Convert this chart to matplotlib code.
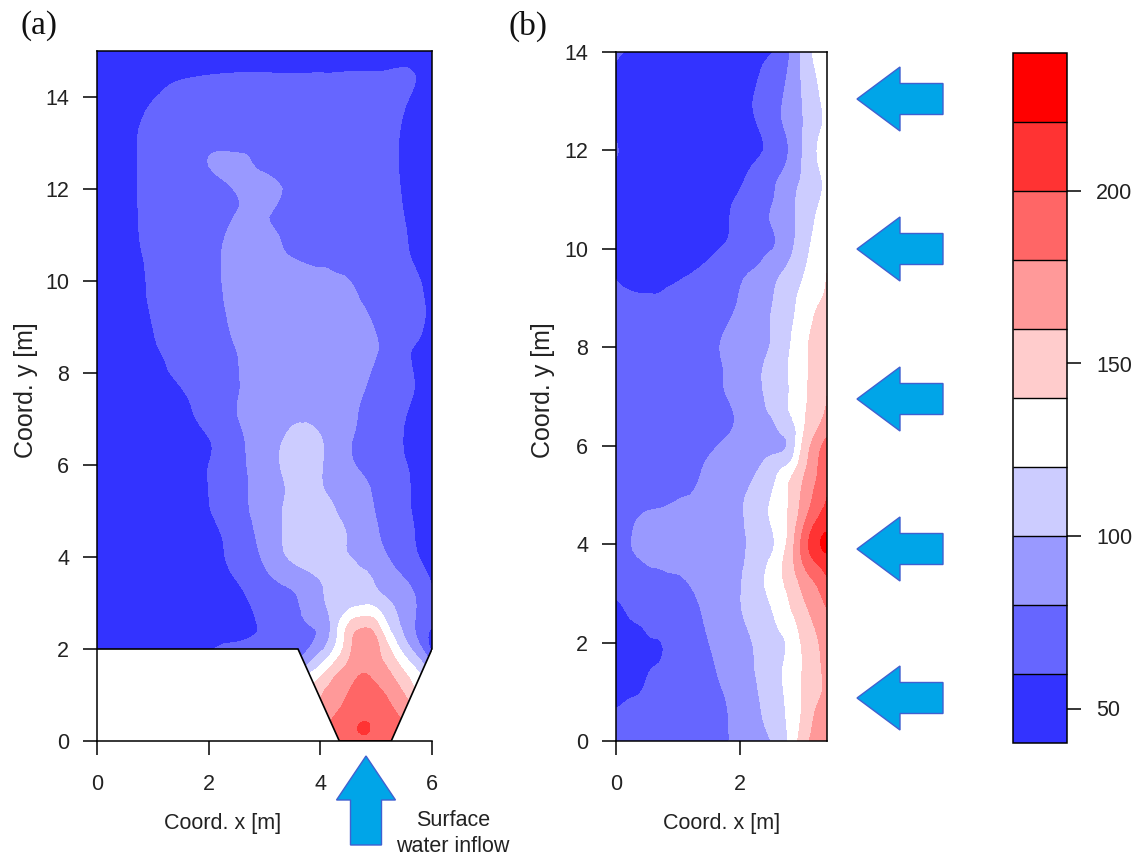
import numpy as np
import matplotlib
matplotlib.use("Agg")
import matplotlib.pyplot as plt
import matplotlib.tri as mtri
from matplotlib.patches import FancyArrow, Polygon

plt.rcParams["font.family"] = ["Liberation Sans", "DejaVu Sans"]
plt.rcParams["font.size"] = 15.5

levels = [40, 60, 80, 100, 120, 140, 160, 180, 200, 220, 240]
band_colors = ["#3333FF", "#6666FF", "#9999FF", "#CCCCFF", "#FFFFFF",
               "#FFCCCC", "#FF9999", "#FF6666", "#FF3333", "#FF0000"]
bar_ticks = [50, 100, 150, 200]

# panel (a), surface water inflow from below
xa = [0, .5, 1, 1.5, 2, 2.5, 3, 3.5, 4, 4.25, 4.5, 4.75, 5, 5.25, 5.5, 5.75, 6]
ya = [0, .25, .5, 1, 1.5, 2, 2.5, 3, 3.5, 4, 4.5, 5, 5.5, 6, 6.5, 7, 7.5, 8, 8.5,
      9, 9.5, 10, 10.5, 11, 11.5, 12, 12.5, 13, 13.5, 14, 14.5, 15]
za = [
    [100, 100, 110, 120, 130, 140, 145, 150, 170, 180, 188, 190, 189, 185, 178, 165, 150],
    [100, 100, 110, 120, 130, 140, 148, 155, 175, 184, 192, 203, 195, 188, 181, 170, 155],
    [100, 100, 110, 120, 130, 140, 146, 150, 170, 181, 190, 197, 193, 186, 178, 165, 150],
    [90, 90, 95, 100, 105, 110, 120, 130, 158, 170, 181, 190, 186, 176, 161, 140, 120],
    [60, 60, 62, 65, 70, 78, 88, 100, 132, 154, 168, 179, 172, 160, 141, 121, 100],
    [48, 50, 52, 54, 58, 63, 68, 64, 95, 121, 153, 170, 165, 140, 112, 88, 55],
    [48, 50, 51, 52, 54, 56, 63, 72, 84, 110, 143, 157, 148, 116, 95, 75, 60.5],
    [48, 50, 51, 52, 54, 57, 66, 76, 95, 107, 112, 116, 113, 101, 90, 78, 63],
    [48, 50, 51, 52, 53, 60, 74, 87, 100, 108, 110, 105, 97, 88, 81, 71, 58],
    [48, 50, 51, 52, 54, 65, 83, 103, 110, 107, 101, 94, 87, 79, 70, 60.5, 55],
    [48, 50, 51, 53, 55, 68, 87, 106, 110, 106, 99, 91, 82, 75, 67, 58, 55],
    [48, 50, 52, 54, 59, 73, 89, 105, 106, 101, 94, 87, 79, 72, 64, 57, 55],
    [48, 50, 52, 55, 60, 74, 88, 103, 101, 96, 91, 84, 77, 71, 63, 57, 55],
    [48, 50, 52, 55, 60, 74, 90, 106, 101, 93, 84, 77, 73, 67, 61, 57, 55],
    [48, 50, 52, 55, 59, 75, 90, 104, 101, 93, 82, 76, 71, 66, 59.5, 56, 54],
    [48, 50, 52, 55, 65, 79, 92, 99, 97, 90, 84, 78, 74, 68, 60.5, 56, 54],
    [49, 52, 55, 58, 69, 79, 92, 97, 95, 90, 85, 80, 76, 71, 64, 58, 54],
    [49, 53, 56, 63, 72, 79, 90, 94, 94, 92, 88, 83, 78, 73, 65, 58, 54],
    [49, 54, 58.5, 66, 74, 80, 90, 94, 94, 93, 90, 85, 80.5, 75, 64, 58, 54],
    [50, 55, 60, 67, 75, 82, 90, 93, 93, 91, 88, 84, 79, 74, 70, 63, 56],
    [50, 55, 61, 68, 76, 83, 88, 90, 89, 87, 84, 80, 76, 72, 68, 63, 57],
    [50, 55, 61.5, 68, 76, 84, 87, 88, 86, 83, 80.5, 77, 74, 70, 65, 60.8, 56],
    [50, 56, 62, 69, 76, 84, 85, 80, 76, 75, 74, 73, 71, 67, 62, 58, 55],
    [50, 56.5, 63, 69, 75, 83, 83, 76, 74, 73, 72, 71, 69, 66, 61, 57, 55],
    [50, 57, 63, 69, 74, 80, 81, 75, 73, 72, 71, 70, 68, 65, 59.7, 57, 55],
    [50, 57, 63, 69, 75, 81, 85, 76, 73, 72, 71, 69, 67, 63, 59, 56, 54],
    [50, 57, 63, 69, 80, 84, 77, 74, 72, 71, 70, 68, 66, 62.5, 58.5, 55, 53],
    [50, 57, 63, 68, 76, 76, 75, 74, 72, 71, 70, 68, 66, 62.5, 58.5, 55, 53],
    [50, 56, 62, 66, 70, 71, 71, 71, 71, 70, 70, 69, 67, 63, 59.5, 56, 54],
    [48, 54, 59.5, 64, 67, 68, 68, 68, 68, 68, 68, 67, 66, 64, 61.5, 57, 54],
    [50, 53, 56, 58, 59.5, 60.5, 60.5, 60, 60.5, 60.5, 61, 61, 61, 61.5, 62, 59, 55],
    [50, 50, 50, 50, 50, 50, 50, 50, 50, 50, 50, 50, 50, 50, 50, 50, 50],
]
domain_x = [0, 3.6, 4.34, 5.27, 6, 6, 0]
domain_y = [2, 2, 0, 0, 2, 15, 15]

# panel (b), inflow from the right side
xb = [0, .25, .5, .75, 1, 1.25, 1.5, 1.75, 2, 2.25, 2.5, 2.75, 3, 3.25, 3.4]
yb = [0, .5, 1, 1.5, 2, 2.5, 3, 3.5, 4, 4.5, 5, 5.5, 6, 6.5, 7, 7.5, 8, 8.5, 9,
      9.5, 10, 10.5, 11, 11.5, 12, 12.5, 13, 13.5, 14]
zb = [
    [64, 65, 66, 67, 69, 72, 75, 78.5, 85, 92, 100, 118, 149, 170, 177],
    [63, 64, 65, 66, 68, 71, 75, 78.5, 86.5, 95.5, 107, 121, 142, 165, 172],
    [54, 58.5, 61.5, 65, 69, 72.5, 76, 80.5, 89.5, 98, 111, 123, 141, 156, 166],
    [50, 53, 58, 62.5, 67.5, 72.5, 77.5, 84, 93, 100.5, 111, 123.5, 140, 156.5, 166],
    [50, 52, 56.5, 60.5, 67, 73.5, 80, 87, 94, 101.5, 110.5, 121, 142, 159, 168],
    [56, 60.5, 65, 69, 73, 77, 83, 90, 98, 107, 117, 132, 149, 166, 175],
    [61, 63, 66, 70, 73, 79.5, 86, 93, 99.5, 111, 124, 139.5, 160, 177, 190],
    [70, 74, 78, 80.5, 83, 87, 91, 95, 98.5, 109, 126.5, 146.5, 174.5, 195, 206],
    [76, 80, 85, 88, 90, 92, 93, 95, 98, 104.5, 116, 141, 185, 216, 224],
    [72, 77, 84, 86, 88, 89, 92, 95, 98.5, 107.5, 121.5, 138.5, 171.5, 201, 210],
    [67, 69, 71, 74, 78, 81, 87, 92.5, 97.5, 106, 119.5, 138, 163, 187, 199],
    [66, 67, 68, 70, 73, 77, 82, 87, 92.5, 98.5, 110, 127, 154, 180, 190],
    [66, 66, 66, 67, 69, 73, 78, 82, 87, 91, 95, 99.5, 141.5, 173, 186],
    [66, 66, 66, 66, 67, 70, 73, 76, 83, 91, 98.5, 113, 135, 155, 166],
    [66, 66, 66, 66, 67, 70, 74, 79, 87, 94.5, 104, 118, 134.5, 151, 160],
    [67, 67, 67, 67, 68, 71, 75, 80.5, 88, 96, 105.5, 118.5, 134.5, 147, 155],
    [67, 67, 67, 67, 69, 72, 76, 82, 88, 94, 101, 116, 134, 147, 152],
    [66, 66, 66, 66, 67, 70, 73, 78, 85.5, 93, 100.5, 113, 128.5, 146, 152],
    [63, 62.5, 62, 62.5, 65, 67, 70, 75, 81, 90, 98.5, 111, 124, 136.5, 144],
    [59, 54, 53, 54, 57, 60.5, 65, 71, 76.5, 82.5, 93, 104.5, 118, 131, 140],
    [53, 53, 53, 53, 53, 54, 57, 61.5, 67.5, 73, 79, 92, 111, 128, 135],
    [52, 52, 52, 52, 52, 53, 55, 58, 65.5, 72.5, 80, 92, 106, 124, 132],
    [52, 52, 52, 52, 52, 53, 54, 57, 62.5, 70.5, 78.5, 91, 105, 118, 126],
    [52, 52, 52, 52, 52, 52, 53, 54, 57, 64.5, 74, 86, 101, 117, 125],
    [62, 55, 52, 52, 52, 52, 53, 54, 55, 57.5, 65, 77.5, 100, 121, 130],
    [52, 51, 51, 51, 51, 51, 52, 53, 55, 59, 70, 83, 99, 116, 125],
    [51, 51, 51, 51, 51, 51, 52, 53, 56, 61, 72, 84, 100, 117, 126],
    [57, 54, 52, 52, 52, 52, 52, 53, 55, 58.5, 69, 80, 102, 121, 128],
    [62, 58, 53, 52, 52, 52, 52, 52, 53, 55, 58.5, 74, 103, 127, 132],
]

# arrows are given in image pixels: y of the left arrows, then the one from below
left_arrow_y = [99, 249, 399, 549, 698]
W, H = 1135, 856


def px_axes(fig, left, top, right, bottom):
    return fig.add_axes([left / W, 1 - bottom / H, (right - left) / W, (bottom - top) / H])


def smooth_contourf(ax, x, y, z):
    """Filled contours on the read grid, with the library's cubic tri refiner for round edges."""
    gx, gy = np.meshgrid(x, y)
    tri = mtri.Triangulation(gx.ravel(), gy.ravel())
    tri_fine, z_fine = mtri.UniformTriRefiner(tri).refine_field(np.array(z).ravel(), subdiv=2)
    return ax.tricontourf(tri_fine, z_fine, levels=levels, colors=band_colors)


def style_axes(ax, xticks, yticks, xlabel_x, ylabel_x):
    ax.set_xticks(xticks)
    ax.set_yticks(yticks)
    ax.tick_params(length=10, width=1.1, labelcolor="#222222")
    ax.tick_params(axis="x", pad=14)
    ax.tick_params(axis="y", pad=10)
    ax.set_xlabel("Coord. x [m]", color="#222222")
    ax.xaxis.set_label_coords(xlabel_x, -0.104)
    ax.set_ylabel("Coord. y [m]", fontsize=18, color="#222222")
    ax.yaxis.set_label_coords(ylabel_x, 0.509)
    for s in ax.spines.values():
        s.set_linewidth(1.1)


fig = plt.figure(figsize=(W / 100, H / 100), dpi=100)

ax_a = px_axes(fig, 97, 51, 432, 741)
cs_a = smooth_contourf(ax_a, xa, ya, za)
cs_a.set_clip_path(Polygon(np.column_stack([domain_x, domain_y]), transform=ax_a.transData))
ax_a.plot(domain_x[:5], domain_y[:5], color="black", lw=1.2, solid_joinstyle="miter")
ax_a.set_xlim(0, 6)
ax_a.set_ylim(0, 15)
style_axes(ax_a, [0, 2, 4, 6], range(0, 15, 2), 0.376, -0.176)
ax_a.spines["right"].set_bounds(2, 15)

ax_b = px_axes(fig, 616, 52, 827, 741)
cs_b = smooth_contourf(ax_b, xb, yb, zb)
ax_b.set_xlim(0, 3.4)
ax_b.set_ylim(0, 14)
style_axes(ax_b, [0, 2], range(0, 15, 2), 0.502, -0.289)

cax = px_axes(fig, 1013, 53, 1067, 743)
cbar = fig.colorbar(cs_b, cax=cax, drawedges=True, ticks=bar_ticks)
cbar.dividers.set_color("black")
cbar.dividers.set_linewidth(1.0)
cbar.outline.set_linewidth(1.1)
cbar.ax.tick_params(length=10, width=1.1, pad=11, labelcolor="#222222")

over = fig.add_axes([0, 0, 1, 1], facecolor="none")
over.set_xlim(0, W)
over.set_ylim(H, 0)
over.axis("off")
for y in left_arrow_y:
    over.add_patch(FancyArrow(943, y, -86, 0, width=31, head_width=64, head_length=43,
                              length_includes_head=True, facecolor="#00A5E8",
                              edgecolor="#4060D0", lw=1))
over.add_patch(FancyArrow(366, 845, 0, -89, width=31, head_width=59, head_length=44,
                          length_includes_head=True, facecolor="#00A5E8",
                          edgecolor="#4060D0", lw=1))

fig.text(21 / W, 1 - 26 / H, "(a)", family="Liberation Serif", fontsize=24, va="center", color="#111111")
fig.text(508 / W, 1 - 26 / H, "(b)", family="Liberation Serif", fontsize=24, va="center", color="#111111")
fig.text(453 / W, 1 - 820 / H, "Surface", ha="center", va="center", color="#222222")
fig.text(453 / W, 1 - 846 / H, "water inflow", ha="center", va="center", color="#222222")

fig.savefig("out.png", dpi=100)
